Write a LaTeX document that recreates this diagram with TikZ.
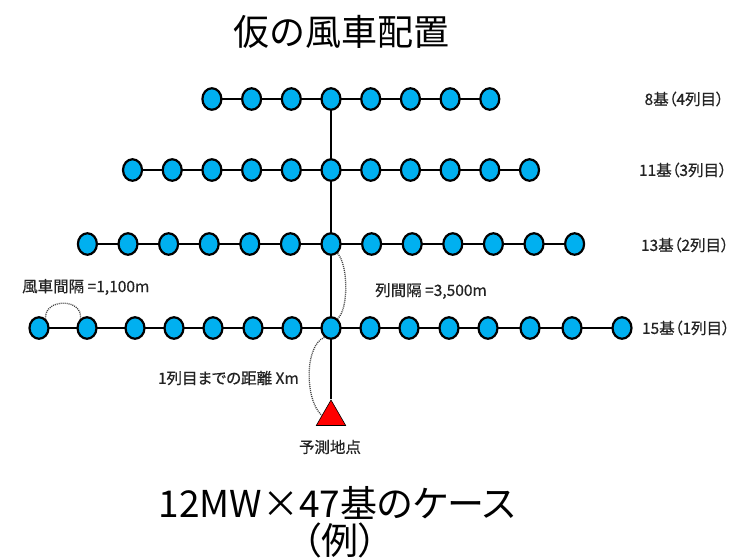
\documentclass[tikz,border=0pt]{standalone}
\usepackage{fontspec}
\newfontfamily\jp{Noto Sans CJK JP}
\newfontfamily\jpp[RawFeature=+palt]{Noto Sans CJK JP}
\newfontfamily\jpl[RawFeature=+palt,FakeBold=0.6]{Noto Sans CJK JP}
\usetikzlibrary{shapes.geometric,backgrounds}
\definecolor{wtblue}{RGB}{0,176,240}
\definecolor{lbl}{RGB}{35,35,35}
\tikzset{
  wt/.style={ellipse,draw=black,line width=2.2pt,fill=wtblue,minimum width=19pt,minimum height=21.5pt,inner sep=0pt},
  link/.style={line width=1.4pt,black},
  dots/.style={line width=1.3pt,dash pattern=on 1pt off 1pt,black!75},
  lab/.style={font=\jpl\fontsize{15.5}{17}\selectfont,text=lbl,inner sep=0pt},
  big/.style={font=\jp\fontsize{36}{40}\selectfont,inner sep=0pt},
  bigp/.style={font=\jpp\fontsize{37}{40}\selectfont,inner sep=0pt},
}
\begin{document}
\begin{tikzpicture}[x=1pt,y=-1pt]
\useasboundingbox (0,0) rectangle (738,558);
% row 4
\foreach \x [count=\i] in {211.9,251.6,291.3,331,370.7,410.4,450.1,489.8}
  \node[wt] (d\i) at (\x,99) {};
% row 3
\foreach \x [count=\i] in {132.5,172.2,211.9,251.6,291.3,331,370.7,410.4,450.1,489.8,529.5}
  \node[wt] (c\i) at (\x,170) {};
% row 2
\foreach \x [count=\i] in {87.4,128,168.6,209.2,249.8,290.4,331,371.6,412.2,452.8,493.4,534,574.6}
  \node[wt] (b\i) at (\x,244) {};
% row 1
\foreach \x [count=\i] in {39,87,135,174,213,253,292,331,370,409,449,488,530,572,622}
  \node[wt] (e\i) at (\x,328) {};
% observation point
\node[regular polygon,regular polygon sides=3,minimum size=34pt,inner sep=0pt,fill=red,draw=black,line width=0.6pt] (tri) at (331,417) {};
\begin{scope}[on background layer]
  \foreach \i in {1,...,7}{\pgfmathtruncatemacro\j{\i+1}\draw[link] (d\i.center) -- (d\j.center);}
  \foreach \i in {1,...,10}{\pgfmathtruncatemacro\j{\i+1}\draw[link] (c\i.center) -- (c\j.center);}
  \foreach \i in {1,...,12}{\pgfmathtruncatemacro\j{\i+1}\draw[link] (b\i.center) -- (b\j.center);}
  \foreach \i in {1,...,14}{\pgfmathtruncatemacro\j{\i+1}\draw[link] (e\i.center) -- (e\j.center);}
  \draw[link] (d4.center) -- (tri.corner 1);
\end{scope}
% dotted spacing arcs
\draw[dots] (e1.55) .. controls (44,298) and (83,298) .. (e2.125);
\draw[dots] (b7.-55) .. controls (348.5,265) and (348.5,310) .. (e8.55);
\draw[dots] (e8.-125) .. controls (304.5,345) and (304.5,400) .. (tri.170);
% labels
\node[lab,anchor=west] (l1) at (22,287) {風車間隔 =1,100m};
\node[lab,anchor=west] (l2) at (375,291) {列間隔 =3,500m};
\node[lab,anchor=east] (l3) at (299,378) {1列目までの距離 Xm};
\node[lab] (l4) at (330,447) {予測地点};
\node[lab,anchor=east] (r4) at (724,99) {8基（4列目）};
\node[lab,anchor=east] (r3) at (727,170) {11基（3列目）};
\node[lab,anchor=east] (r2) at (729,245) {13基（2列目）};
\node[lab,anchor=east] (r1) at (730,328) {15基（1列目）};
% titles
\node[big] (title) at (341,32) {仮の風車配置};
\node[bigp] (cap1) at (337,503) {12MW×47基のケース};
\node[bigp] (cap2) at (340,540) {（例）};
\end{tikzpicture}
\end{document}
